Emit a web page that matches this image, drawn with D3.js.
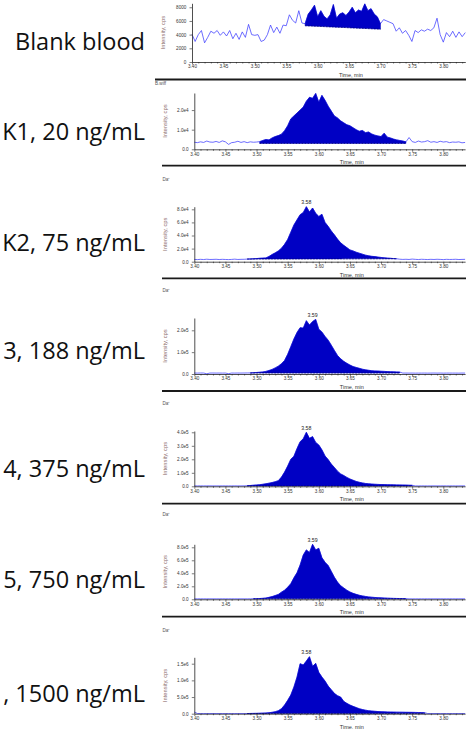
<!DOCTYPE html>
<html><head><meta charset="utf-8">
<script src="https://cdn.jsdelivr.net/npm/d3@7"></script>
<style>html,body{margin:0;padding:0;background:#fff;overflow:hidden}</style>
</head><body>
<svg id="c" width="469" height="729"></svg>
<script>
// ---------------- DATA ----------------
// labels as visible in the (left-cropped) reference
const sampleLabels = ["Blank blood","K1, 20 ng/mL","K2, 75 ng/mL","3, 188 ng/mL","4, 375 ng/mL","5, 750 ng/mL",", 1500 ng/mL"];
const headerTexts = ["", "B.wiff", "Da⁺", "Da⁺", "Da⁺", "Da⁺", "Da⁺"];

const times = [3.400,3.405,3.410,3.415,3.420,3.425,3.430,3.435,3.440,3.445,
3.450,3.455,3.460,3.465,3.470,3.475,3.480,3.485,3.490,3.495,
3.500,3.505,3.510,3.515,3.520,3.525,3.530,3.535,3.540,3.545,
3.550,3.555,3.560,3.565,3.570,3.575,3.580,3.585,3.590,3.595,
3.600,3.605,3.610,3.615,3.620,3.625,3.630,3.635,3.640,3.645,
3.650,3.655,3.660,3.665,3.670,3.675,3.680,3.685,3.690,3.695,
3.700,3.705,3.710,3.715,3.720,3.725,3.730,3.735,3.740,3.745,
3.750,3.755,3.760,3.765,3.770,3.775,3.780,3.785,3.790,3.795,
3.800,3.805,3.810,3.815,3.820,3.825,3.830,3.835];

const blankValues = [4050,3000,4000,4600,2800,3600,4500,4200,4600,3900,
4400,3800,4600,3400,4200,3300,4400,3600,5500,4000,
3900,4000,3000,3200,4000,5400,4300,5100,4200,5400,
5300,6900,6100,5700,7500,5700,5600,7000,7600,8300,
6600,7500,6700,6300,6900,8400,6400,7000,7200,6800,
7300,8000,7200,7600,7400,8500,7500,7800,7000,6600,
5600,6200,6000,5800,5600,4500,5000,4200,4600,3900,
3000,4600,4300,4700,4500,4800,4600,5000,6400,4000,
2900,4300,3700,4500,3600,4400,3700,4300];

const k1Values = [3600,3400,3800,3500,4200,3700,3600,4000,3500,4300,3800,2500,3400,3600,4100,3500,3900,3400,3800,3600,3700,
3900,4500,5000,4800,5800,6500,7000,7700,9500,12000,15500,17000,18500,20000,21500,24500,26500,26000,28500,24000,27500,25000,22000,19500,17000,16000,14500,13500,12500,12000,11000,10000,9200,9600,8500,8800,7800,7200,6800,6500,8200,6200,5800,5200,4800,4500,4200,3800,
6000,3900,3500,4200,3700,3900,4400,3600,3900,3500,4100,3700,3900,3400,3700,3600,3800,3300,3500];

const k2Values = [3500,3200,3600,3300,3800,3400,3500,3700,3300,3600,3400,3200,3500,3900,3400,3600,3700,
4000,4200,4500,4800,5200,5500,5800,8000,11000,13500,16500,20500,26500,34000,45000,56000,64000,71800,75000,84000,76000,82000,74000,69000,72500,60000,54000,47000,41000,34500,29000,25000,21500,18000,16500,14500,13000,11500,10000,9000,8200,7800,7000,6500,6000,5500,5200,4800,4500,
3800,3500,3700,3400,4000,3600,3300,3700,3500,3300,3600,3400,3700,3500,3200,3600,3400,3500,3700,3300,3500,3600];

const k3Values = [4500,4200,4600,4400,1000,4300,4500,4200,4400,4100,4300,1500,4400,4200,4500,4300,4600,4800,
5000,6000,7000,8000,9500,12000,16000,21000,28000,36000,47000,62000,90000,125000,160000,190000,212000,210000,244000,224000,240000,250000,205000,192000,172000,155000,132000,108000,85000,70000,58000,49000,41000,34000,30000,26000,22000,19000,17000,15000,14000,13500,12500,12000,11000,10500,10000,9500,9000,
4200,4400,4100,4300,4000,4200,4100,4300,4000,4200,4400,4100,4300,4000,4200,4300,4100,4200,4000,4300,4200];

const k4Values = [3000,2800,3100,2900,3000,3200,2800,3000,2900,3100,3000,2800,3000,3200,2900,3000,3300,
4000,6000,8000,10000,12000,15000,19000,23000,28000,34000,42000,68000,105000,150000,200000,222000,280000,330000,352000,400000,355000,368000,325000,306000,270000,225000,198000,165000,140000,112000,92000,80000,66000,54000,45000,36000,30000,25000,21000,18500,16500,15000,14000,13000,12500,12000,11500,11000,10500,10000,9500,9000,8000,7500,
3000,2900,3100,3000,2800,3000,3100,2900,3000,3200,2900,3000,3100,2800,3000,3100,2900];

const k5Values = [7000,6800,7200,7000,6900,7100,7000,6800,7000,7200,6900,7000,7100,6800,7000,7200,7000,6900,7500,
9000,10000,12000,15000,20000,30000,42000,58000,75000,110000,140000,185000,240000,330000,410000,528000,680000,760000,720000,846000,760000,785000,640000,570000,520000,430000,340000,265000,210000,175000,140000,112000,92000,76000,62000,52000,44000,37000,32000,28000,25000,22000,20000,17500,15500,14000,13000,12000,11000,10000,
7200,7000,6800,7100,7000,6900,7200,7000,6800,7000,7100,6900,7000,7200,6800,7000,7100,6900,7000];

const k6Values = [50000,6000,5000,5000,4800,5000,5200,5000,4800,5000,5000,5200,4800,5000,5000,4800,5000,
5000,7000,9000,11000,14000,18000,22000,30000,42000,60000,90000,150000,260000,400000,560000,800000,1100000,1500000,1460000,1580000,1710000,1420000,1510000,1240000,1100000,980000,830000,720000,610000,540000,500000,370000,310000,260000,220000,185000,150000,125000,105000,90000,80000,72000,65000,60000,56000,52000,50000,48000,46000,45000,44000,42000,41000,40000,38000,36000,34000,30000,
5000,4800,5000,5200,5000,4800,5000,5000,5200,4800,5000,5000,4800];

const seriesValues = [blankValues,k1Values,k2Values,k3Values,k4Values,k5Values,k6Values];

// integration windows (peak fill) and their baselines
const fillStart = [3.580,3.505,3.485,3.490,3.485,3.495,3.485];
const fillEnd   = [3.700,3.740,3.725,3.730,3.750,3.740,3.770];
const fillBaseStart = [5300,3000,4000,4500,3000,7000,5000];
const fillBaseEnd   = [4800,3000,4500,4200,3000,7000,5000];

// y axis domain tops and ticks
const yDomainMax = [8580,28700,84000,256300,409600,846000,1692000];
const yTickValues = [[0,2000,4000,6000,8000],[0,1e4,2e4],[0,2e4,4e4,6e4,8e4],[0,1e5,2e5],[0,1e5,2e5,3e5,4e5],[0,2e5,4e5,6e5,8e5],[0,5e5,1e6,1.5e6]];
const yTickLabels = [["0","2000","4000","6000","8000"],["0.0","1.0e4","2.0e4"],["0.0","2.0e4","4.0e4","6.0e4","8.0e4"],["0.0","1.0e5","2.0e5"],["0.0","1.0e5","2.0e5","3.0e5","4.0e5"],["0.0","2.0e5","4.0e5","6.0e5","8.0e5"],["0.0","5.0e5","1.0e6","1.5e6"]];

const xDomain = [3.40, 3.835];
const xTickValues = [3.40,3.45,3.50,3.55,3.60,3.65,3.70,3.75,3.80];
const xTickLabels = ["3.40","3.45","3.50","3.55","3.60","3.65","3.70","3.75","3.80"];
const xMinorTicks = [3.41,3.42,3.43,3.44,3.46,3.47,3.48,3.49,3.51,3.52,3.53,3.54,3.56,3.57,3.58,3.59,3.61,3.62,3.63,3.64,3.66,3.67,3.68,3.69,3.71,3.72,3.73,3.74,3.76,3.77,3.78,3.79,3.81,3.82,3.83];

const peakTimes = [null,null,3.58,3.59,3.58,3.59,3.58];
const peakTexts = ["","","3.58","3.59","3.58","3.59","3.58"];

const xAxisTitle = "Time, min";
const yAxisTitle = "Intensity, cps";

// ---------------- LAYOUT ----------------
const layout = [
  {xL:192,   xR:465.3, y0:62,    yT:3.3,   labelY:50,    headerY:null,  sepY:79.5,  sepX:155},
  {xL:194.3, xR:465.1, y0:149.3, yT:93,    labelY:139.5, headerY:83,    sepY:165.7, sepX:162},
  {xL:194.3, xR:465.1, y0:261.7, yT:206.7, labelY:250.7, headerY:179,   sepY:278.3, sepX:162},
  {xL:194.3, xR:465.1, y0:374,   yT:318,   labelY:359,   headerY:290,   sepY:391,   sepX:162},
  {xL:194.3, xR:465.1, y0:486.3, yT:431,   labelY:476.7, headerY:403,   sepY:503.7, sepX:162},
  {xL:194.3, xR:465.1, y0:599.3, yT:544.3, labelY:587.7, headerY:514.5, sepY:616.7, sepX:162},
  {xL:194.3, xR:465.1, y0:713.7, yT:657.3, labelY:701.7, headerY:630,   sepY:null,  sepX:162}
];
const xTitleTime = 3.653;
const lineColor = "#3c3cff";
const fillColor = "#0000c4";
const axisFont = "'Liberation Sans', Arial, sans-serif";

// ---------------- DRAW ----------------
const svg = d3.select("#c");

layout.forEach((L, p) => {
  const x = d3.scaleLinear().domain(xDomain).range([L.xL, L.xR]);
  const y = d3.scaleLinear().domain([0, yDomainMax[p]]).range([L.y0, L.yT]);
  const data = times.map((t, i) => ({t, v: seriesValues[p][i]}));
  const g = svg.append("g");

  // sample label at left
  svg.append("text").attr("x", 145).attr("y", L.labelY)
    .attr("text-anchor", "end")
    .style("font-family", "'Open Sans', sans-serif").style("font-size", "23.5px")
    .attr("fill", "#111").text(sampleLabels[p]);

  // header text
  if (L.headerY !== null && headerTexts[p]) {
    svg.append("text").attr("x", p === 1 ? 155 : 162.5).attr("y", L.headerY)
      .attr("dominant-baseline", "central")
      .style("font-family", axisFont).style("font-size", "4.6px")
      .attr("fill", "#555").text(headerTexts[p]);
  }

  // trace line
  const line = d3.line().x(d => x(d.t)).y(d => y(d.v));
  g.append("path").datum(data).attr("d", line)
    .attr("fill", "none").attr("stroke", lineColor).attr("stroke-width", 0.75);

  // filled integrated peak
  const base = d3.scaleLinear().domain([fillStart[p], fillEnd[p]]).range([fillBaseStart[p], fillBaseEnd[p]]);
  const fdata = data.filter(d => d.t >= fillStart[p] - 1e-9 && d.t <= fillEnd[p] + 1e-9);
  const area = d3.area().x(d => x(d.t)).y0(d => y(base(d.t))).y1(d => y(d.v));
  g.append("path").datum(fdata).attr("d", area)
    .attr("fill", fillColor).attr("stroke", fillColor).attr("stroke-width", 0.5).attr("stroke-linejoin", "round");
  // integration baseline (dashed)
  g.append("path").datum([fillStart[p], fillEnd[p]])
    .attr("d", d3.line().x(t => x(t)).y(t => y(base(t))))
    .attr("stroke", "#000050").attr("stroke-width", 0.6).attr("stroke-dasharray", "1.5,1.5").attr("fill", "none");

  // x axis
  const xAxis = d3.axisBottom(x).tickValues(xTickValues)
    .tickFormat((d, i) => xTickLabels[i]).tickSize(2.5).tickSizeOuter(0).tickPadding(0.6);
  const gx = g.append("g").attr("transform", `translate(0,${L.y0})`).call(xAxis);
  gx.select(".domain").attr("stroke", "#222").attr("stroke-width", 0.8);
  gx.selectAll(".tick line").attr("stroke", "#222").attr("stroke-width", 0.6);
  gx.selectAll("text").style("font-family", axisFont).style("font-size", "4.6px").attr("fill", "#333");
  const xMinor = d3.axisBottom(x).tickValues(xMinorTicks).tickFormat("").tickSize(1.5).tickSizeOuter(0);
  const gm = g.append("g").attr("transform", `translate(0,${L.y0})`).call(xMinor);
  gm.select(".domain").remove();
  gm.selectAll(".tick line").attr("stroke", "#222").attr("stroke-width", 0.6);

  // x title
  g.append("text").attr("x", x(xTitleTime)).attr("y", L.y0 + 13)
    .attr("text-anchor", "middle").attr("dominant-baseline", "central")
    .style("font-family", axisFont).style("font-size", "5.5px").attr("fill", "#333").text(xAxisTitle);

  // y axis
  const yAxis = d3.axisLeft(y).tickValues(yTickValues[p])
    .tickFormat((d, i) => yTickLabels[p][i]).tickSize(2.5).tickSizeOuter(0).tickPadding(3.2);
  const gy = g.append("g").attr("transform", `translate(${L.xL},0)`).call(yAxis);
  gy.select(".domain").attr("stroke", "#222").attr("stroke-width", 0.8);
  gy.selectAll(".tick line").attr("stroke", "#222").attr("stroke-width", 0.6);
  gy.selectAll("text").style("font-family", axisFont).style("font-size", "4.6px").attr("fill", "#333");

  // y title
  g.append("text")
    .attr("transform", `translate(${L.xL - 29},${(L.y0 + L.yT) / 2}) rotate(-90)`)
    .attr("text-anchor", "middle").attr("dominant-baseline", "central")
    .style("font-family", axisFont).style("font-size", "5.8px").attr("fill", "#8a6a6a").text(yAxisTitle);

  // peak label
  if (peakTimes[p] !== null) {
    const vmax = d3.max(fdata, d => d.v);
    g.append("text").attr("x", x(peakTimes[p])).attr("y", y(vmax) - 2.6)
      .attr("text-anchor", "middle")
      .style("font-family", axisFont).style("font-size", "5.2px").attr("fill", "#222").text(peakTexts[p]);
  }

  // separator
  if (L.sepY !== null) {
    svg.append("line").attr("x1", L.sepX).attr("x2", 466).attr("y1", L.sepY).attr("y2", L.sepY)
      .attr("stroke", "#1a1a1a").attr("stroke-width", 1.8);
  }
});
</script>
</body></html>
